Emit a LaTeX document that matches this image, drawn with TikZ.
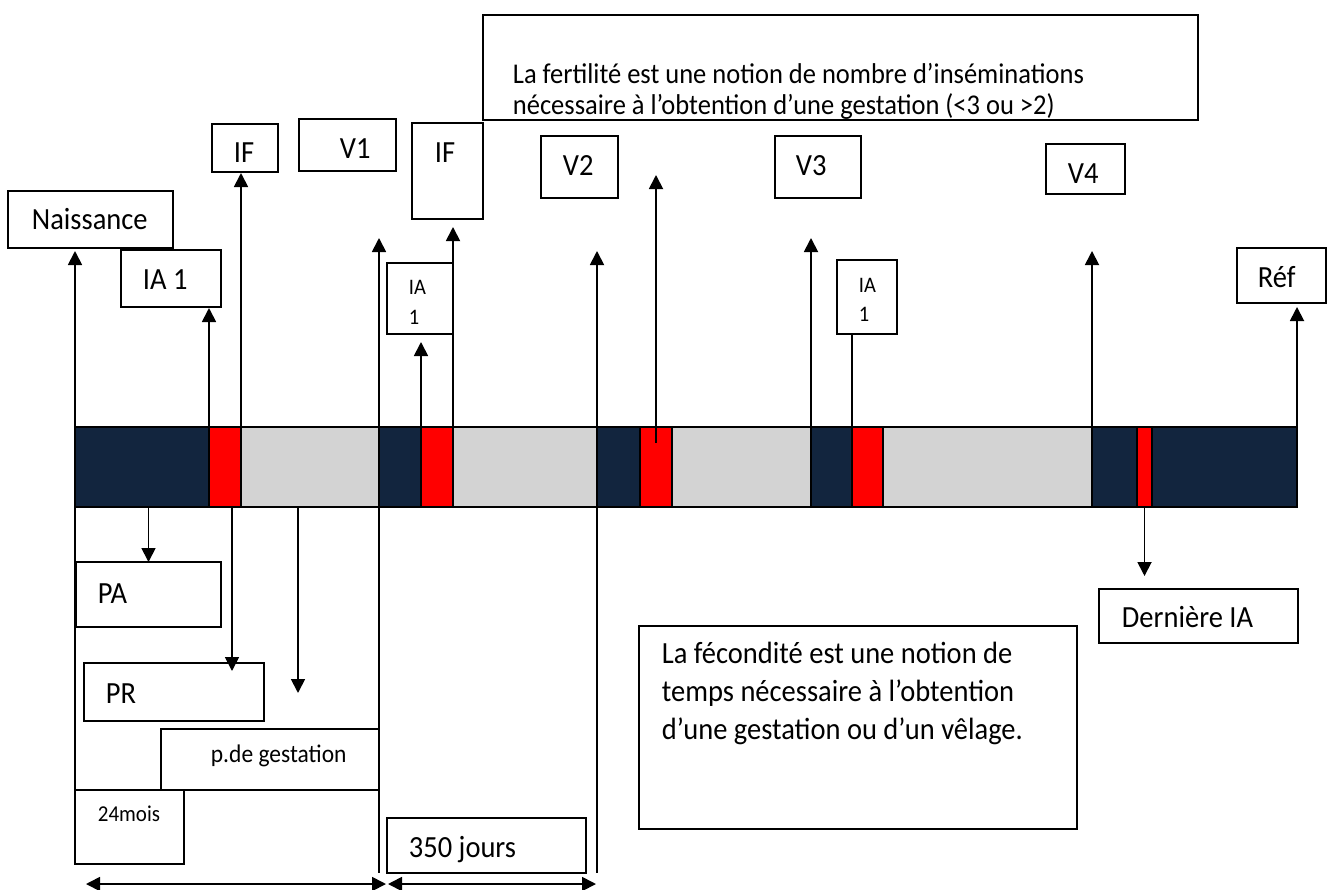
\documentclass[tikz,border=0pt]{standalone}
\usepackage{fontspec}
\setmainfont{Carlito}
\usetikzlibrary{arrows.meta,fit}
\definecolor{navy}{RGB}{18,37,62}
\definecolor{ivred}{RGB}{255,0,0}
\definecolor{ivgray}{RGB}{211,211,211}
\begin{document}
\begin{tikzpicture}[x=1pt,y=-1pt,line width=1.8pt,
  box/.style={draw,inner sep=0pt,outer sep=0pt},
  seg/.style={draw,inner sep=0pt,outer sep=0pt},
  dark/.style={seg,fill=navy},
  hot/.style={seg,fill=ivred},
  pale/.style={seg,fill=ivgray},
  txt/.style={anchor=base west,inner sep=0pt,yscale=1.08,transform shape},
  lbl/.style={txt,font=\fontsize{28.5}{34}\selectfont},
  small/.style={txt,font=\fontsize{20.5}{24}\selectfont},
  tip/.style={-{Triangle[width=14pt,length=14pt]}},
  both/.style={{Triangle[width=14pt,length=14pt]}-{Triangle[width=14pt,length=14pt]}}]
\useasboundingbox (0,0) rectangle (1332,889);

% timeline bar
\node[dark,fit={(75,427) (209,507)}]   (s1) {};
\node[hot, fit={(209,427) (241,507)}]  (s2) {};
\node[pale,fit={(241,427) (379,507)}]  (s3) {};
\node[dark,fit={(379,427) (421,507)}]  (s4) {};
\node[hot, fit={(421,427) (453,507)}]  (s5) {};
\node[pale,fit={(453,427) (597,507)}]  (s6) {};
\node[dark,fit={(597,427) (640,507)}]  (s7) {};
\node[hot, fit={(640,427) (672,507)}]  (s8) {};
\node[pale,fit={(672,427) (811,507)}]  (s9) {};
\node[dark,fit={(811,427) (852,507)}]  (s10) {};
\node[hot, fit={(852,427) (883,507)}]  (s11) {};
\node[pale,fit={(883,427) (1092,507)}] (s12) {};
\node[dark,fit={(1092,427) (1137,507)}] (s13) {};
\node[hot, fit={(1137,427) (1152,507)}] (s14) {};
\node[dark,fit={(1152,427) (1297,507)}] (s15) {};

% boxes
\node[box,fit={(483,15) (1198,120)}]  (fert) {};
\node[box,fit={(8,191) (173,248)}]    (naiss) {};
\node[box,fit={(121,250) (221,307)}]  (ia1) {};
\node[box,fit={(212,124) (278,172)}]  (if1) {};
\node[box,fit={(299,119) (396,171)}]  (v1) {};
\node[box,fit={(412,123) (483,219)}]  (if2) {};
\node[box,fit={(541,136) (618,198)}]  (v2) {};
\node[box,fit={(775,136) (861,198)}]  (v3) {};
\node[box,fit={(1046,144) (1125,194)}] (v4) {};
\node[box,fit={(1237,248) (1326,303)}] (ref) {};
\node[box,fit={(387,263) (453,334)}]  (iab) {};
\node[box,fit={(837,260) (897,334)}]  (iac) {};
\node[box,fit={(76,562) (221,627)}]   (pa) {};
\node[box,fit={(84,663) (264,721)}]   (pr) {};
\node[box,fit={(161,729) (379,790)}]  (gest) {};
\node[box,fit={(75,790) (184,864)}]   (mois) {};
\node[box,fit={(387,818) (586,873)}]  (jours) {};
\node[box,fit={(1099,589) (1298,643)}] (dern) {};
\node[box,fit={(639,626) (1077,829)}] (fec) {};

% texts
\node[txt,font=\fontsize{26.5}{31}\selectfont] (fertA) at (512,83) {La fertilité est une notion de nombre d’inséminations};
\node[txt,font=\fontsize{26.5}{31}\selectfont] (fertB) at (512,114) {nécessaire à l’obtention d’une gestation (<3 ou >2)};
\node[lbl] (tNaiss) at (31,229) {Naissance};
\node[lbl] (tIa1) at (142,289) {IA 1};
\node[lbl] (tIf1) at (233,162) {IF};
\node[lbl] (tV1) at (339,158) {V1};
\node[lbl] (tIf2) at (434,162) {IF};
\node[lbl] (tV2) at (562,175) {V2};
\node[lbl] (tV3) at (795,175) {V3};
\node[lbl] (tV4) at (1067,183) {V4};
\node[lbl] (tRef) at (1257,287) {Réf};
\node[small] (tIabA) at (408,294) {IA};
\node[small] (tIabB) at (408,324) {1};
\node[small] (tIacA) at (858,292) {IA};
\node[small] (tIacB) at (858,321) {1};
\node[lbl] (tPa) at (97,603) {PA};
\node[lbl] (tPr) at (105,703) {PR};
\node[txt,font=\fontsize{23.5}{28}\selectfont] (tGest) at (210,762) {p.de gestation};
\node[txt,font=\fontsize{21}{25}\selectfont] (tMois) at (97,821) {24mois};
\node[lbl] (tJours) at (408,857) {350 jours};
\node[lbl] (tDern) at (1121,627) {Dernière IA};
\node[lbl] (tFecA) at (661,663) {La fécondité est une notion de};
\node[lbl] (tFecB) at (661,701) {temps nécessaire à l’obtention};
\node[lbl] (tFecC) at (661,739) {d’une gestation ou d’un vêlage.};

% free ends of connectors
\coordinate (v1tip) at (379,238);
\coordinate (iabtip) at (421,342);
\coordinate (v2tip) at (597,251);
\coordinate (fertip) at (656,175);
\coordinate (v3tip) at (811,238);
\coordinate (v4tip) at (1092,251);
\coordinate (prtip) at (232,671);
\coordinate (gtip) at (298,693);
\coordinate (endA) at (379,873);
\coordinate (endB) at (597,873);
\coordinate (spanA) at (86,884);
\coordinate (spanB) at (386,884);
\coordinate (spanC) at (388,884);
\coordinate (spanD) at (596,884);

% upward connectors
\draw[tip,shorten >=3pt] (s1.north west) -- (s1.north west |- naiss.south);
\draw[tip,shorten >=1pt] (s2.north west) -- (s2.north west |- ia1.south);
\draw[tip,shorten >=1pt] ([yshift=-16pt]s2.north east) -- (s2.north east |- if1.south);
\draw[tip] (s4.north west) -- (v1tip);
\draw[tip] (s5.north west) -- (iabtip);
\draw[tip,shorten >=8pt] (s5.north east) -- (s5.north east |- if2.south);
\draw[tip] (s7.north west) -- (v2tip);
\draw[tip] ([yshift=-16pt]s8.north) -- (fertip);
\draw[tip] (s10.north west) -- (v3tip);
\draw (s11.north west) -- (s11.north west |- iac.south);
\draw[tip] (s13.north west) -- (v4tip);
\draw[tip,shorten >=4pt] (s15.north east) -- (s15.north east |- ref.south);

% downward connectors
\draw[tip] (pa.north |- s1.south) -- (pa.north);
\draw[tip] (prtip |- s2.south) -- (prtip);
\draw[tip] (gtip |- s3.south) -- (gtip);
\draw[tip,shorten >=13pt] (s14.south) -- (s14.south |- dern.north);

% period limits
\draw (s1.south west) -- (mois.north west);
\draw (s3.south east) -- (endA);
\draw (s6.south east) -- (endB);
\draw[both] (spanA) -- (spanB);
\draw[both] (spanC) -- (spanD);
\end{tikzpicture}
\end{document}
